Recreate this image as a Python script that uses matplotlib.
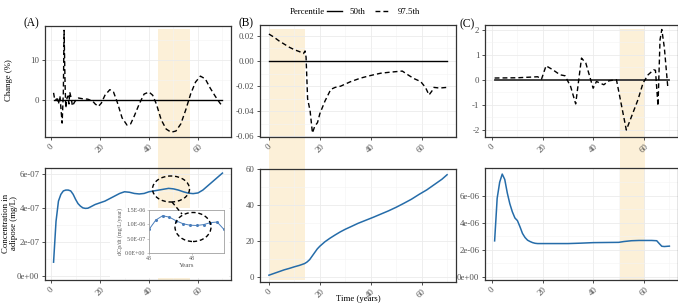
import matplotlib.pyplot as plt
import numpy as np
from matplotlib.lines import Line2D
from matplotlib.patches import Rectangle, Ellipse
from matplotlib.transforms import blended_transform_factory

plt.rcParams['font.family'] = ['Liberation Serif', 'DejaVu Serif']

W, H = 678, 307

# ---------------- data ----------------
# (A) change (%) of the 97.5th percentile
yr_a_chg = [1, 1.5, 2.5, 3, 3.6, 4.0, 4.5, 5.0, 5.3, 5.7, 6.0, 6.5, 6.9, 7.3, 7.6, 8.2, 8.7,
            9.6, 10.5, 11.2, 13, 15, 17, 18, 19.3, 20.5, 22, 24, 25.5, 27, 29, 31, 32.5, 34,
            36, 38, 40, 41.5, 43, 45, 47, 49, 51, 53, 55, 57, 59, 61, 63, 65, 67, 69, 70]
chg_a = [1.8, 0.0, 0.3, -1.0, 1.0, -2.0, -5.8, 2.0, 17.5, 4.0, -2.0, 0.5, 1.0, -1.0, 2.0, 0.5, -1.5,
         -0.5, 0.3, 0.5, 0.3, 0.2, -0.3, -1.0, -1.6, -0.8, 1.2, 2.6, 2.0, -0.5, -4.5, -6.3, -6.0, -4.0,
         -1.0, 1.5, 2.0, 1.2, -1.0, -5.0, -7.3, -8.1, -7.8, -6.0, -2.5, 1.5, 4.5, 6.0, 5.3, 3.0, 1.0, -0.8, -1.5]

# (A) concentration in adipose (mg/L)
yr_a_conc = [1, 2, 3, 4, 5, 6, 7, 8, 9, 10, 11, 12, 13, 14, 15, 16, 18, 20, 22, 24, 26, 28, 30,
             32, 34, 36, 38, 40, 42, 44, 46, 48, 50, 52, 54, 56, 58, 60, 62, 64, 66, 68, 70]
conc_a = np.array([0.8, 3.2, 4.4, 4.8, 5.0, 5.05, 5.05, 5.0, 4.8, 4.5, 4.25, 4.1, 4.0, 3.97, 3.98,
                   4.05, 4.2, 4.3, 4.4, 4.55, 4.7, 4.85, 4.95, 4.92, 4.85, 4.82, 4.85, 4.95, 5.0,
                   5.05, 5.1, 5.15, 5.12, 5.05, 4.95, 4.87, 4.84, 4.88, 5.05, 5.3, 5.55, 5.8, 6.05]) * 1e-7

# (A) inset: dCp/dt (mg/L/year)
yr_inset = [43, 43.8, 44.6, 45.4, 46.2, 47, 47.8, 48.6, 49.4, 50.2, 51, 51.8]
dcdt_inset = np.array([0.82, 1.15, 1.3, 1.25, 1.12, 1.02, 0.97, 0.96, 0.99, 1.06, 1.08, 0.82]) * 1e-6

# (B) change (%)
yr_b_chg = [0, 2, 4, 6, 8, 10, 12, 13.6, 14.2, 14.6, 15.2, 16.2, 17.1, 18, 19.1, 20, 22, 24.3,
            26, 28.2, 32, 36, 40, 43.9, 48, 52.4, 55, 57, 59.6, 61.5, 62.9, 64.0, 64.8, 67, 70]
chg_b = [0.0215, 0.019, 0.016, 0.0135, 0.011, 0.009, 0.0075, 0.006, 0.008, 0.003, -0.03, -0.04,
         -0.0573, -0.052, -0.049, -0.042, -0.032, -0.0226, -0.021, -0.02, -0.0165, -0.0136,
         -0.0115, -0.0097, -0.0088, -0.008, -0.0115, -0.014, -0.0163, -0.021, -0.027, -0.024,
         -0.021, -0.0215, -0.021]

# (B) concentration in adipose
yr_b_conc = [0, 2, 4, 6, 8, 10, 12, 14, 15, 16, 17, 18, 19, 20, 22, 24, 26, 28, 30, 32, 35, 38,
             41, 44, 47, 50, 53, 56, 59, 62, 65, 68, 70]
conc_b = [0.8, 1.8, 2.8, 3.8, 4.6, 5.5, 6.3, 7.3, 8.2, 9.5, 11.5, 13.5, 15.5, 17, 19.5, 21.5,
          23.3, 25, 26.5, 27.8, 29.8, 31.5, 33.2, 35, 36.8, 38.8, 41, 43.3, 46, 48.5, 51.5, 54.5, 57]

# (C) change (%)
yr_c_chg = [1, 10, 18, 19.5, 21.3, 24, 26.8, 28.8, 31, 33, 35.3, 37, 39.9, 41.2, 44.1, 46.2, 49.1,
            53, 57.6, 59.6, 61.6, 63.8, 64.5, 65.5, 66.3, 67, 68, 69.4]
chg_c = [0.07, 0.08, 0.12, 0.02, 0.56, 0.4, 0.2, 0.16, -0.27, -0.97, 0.87, 0.67, -0.34, -0.07,
         -0.2, -0.04, 0.0, -2.02, -0.8, -0.13, 0.2, 0.4, 0.38, -1.05, 1.6, 2.02, 1.3, -0.33]

# (C) concentration in adipose
yr_c_conc = [1, 2, 3, 4, 5, 6, 7, 8, 9, 10, 11, 12, 13, 14, 15, 16, 17, 18, 20, 25, 30, 35, 40,
             45, 50, 52, 55, 58, 60, 63, 65, 66, 67, 68, 70]
conc_c = np.array([2.65, 5.8, 7.0, 7.6, 7.2, 6.2, 5.4, 4.8, 4.35, 4.15, 3.7, 3.2, 2.9, 2.7, 2.6,
                   2.52, 2.47, 2.45, 2.45, 2.45, 2.45, 2.48, 2.52, 2.53, 2.54, 2.6, 2.66, 2.68,
                   2.68, 2.68, 2.66, 2.45, 2.25, 2.23, 2.26]) * 1e-6

# 50th percentile change lines (flat at zero)
med_a = ([1, 70], [0, 0])
med_b = ([0, 70], [0, 0])
med_c = ([1, 70], [0, 0])

# highlighted windows (years)
win_a = (43.5, 56.8)
win_b = (0.0, 14.2)
win_c = (50.5, 60.3)

# tick labels
yt_a_chg = [0, 10]
yt_a_conc = [0, 2e-7, 4e-7, 6e-7]
yl_a_conc = ['0e+00', '2e-07', '4e-07', '6e-07']
yt_b_chg = [-0.06, -0.04, -0.02, 0.0, 0.02]
yl_b_chg = ['-0.06', '-0.04', '-0.02', '0.00', '0.02']
yt_b_conc = [0, 20, 40, 60]
yt_c_chg = [-2, -1, 0, 1, 2]
yl_c_chg = ['-2', '-1', '0', '1', '2']
yt_c_conc = [0, 2e-6, 4e-6, 6e-6]
yl_c_conc = ['0e+00', '2e-06', '4e-06', '6e-06']
yt_inset = [0, 5e-7, 1e-6, 1.5e-6]
yl_inset = ['0.0E+00', '5.0E-07', '1.0E-06', '1.5E-06']

BLUE = '#256ca9'
SHADE = '#fcf0d8'
DASH = (0, (3.5, 2.2))
FS = 6.3

fig = plt.figure(figsize=(W / 100, H / 100), dpi=100)


def frac(l, t, r, b):
    return [l / W, 1 - b / H, (r - l) / W, (b - t) / H]


def style(ax):
    ax.set_facecolor('none')
    for s in ax.spines.values():
        s.set_color('#333333')
        s.set_linewidth(0.9)
    ax.set_xticks([0, 20, 40, 60])
    ax.set_xticks([10, 30, 50, 70], minor=True)
    ax.grid(True, which='major', color='#ebebeb', lw=0.6)
    ax.grid(True, which='minor', color='#f3f3f3', lw=0.4)
    ax.set_axisbelow(True)
    ax.tick_params(which='major', length=2.5, width=0.6, color='#333333',
                   labelsize=FS, labelcolor='#4d4d4d', pad=1.5)
    ax.tick_params(which='minor', length=0)
    ax.tick_params(axis='x', labelrotation=45)


def minor_y(ax, ticks):
    step = ticks[1] - ticks[0]
    ax.set_yticks([t + step / 2 for t in [ticks[0] - step] + list(ticks)], minor=True)


ax_a1 = fig.add_axes(frac(45, 26, 231, 137))
ax_a2 = fig.add_axes(frac(45, 168, 231, 280))
ax_b1 = fig.add_axes(frac(260, 25, 456, 137))
ax_b2 = fig.add_axes(frac(260, 169, 456, 282))
ax_c1 = fig.add_axes(frac(485, 25, 678, 137))
ax_c2 = fig.add_axes(frac(485, 168, 678, 280))

for ax in [ax_a1, ax_a2, ax_b1, ax_b2, ax_c1, ax_c2]:
    style(ax)

# panel A
ax_a1.plot(*med_a, color='black', lw=1.0)
ax_a1.plot(yr_a_chg, chg_a, color='black', lw=1.0, ls=DASH)
ax_a1.set_yticks(yt_a_chg)
ax_a1.set_yticks([-5, 5, 15], minor=True)
ax_a1.set_xlim(-2.5, 73.5)
ax_a1.set_ylim(-9.3, 18.6)

ax_a2.plot(yr_a_conc, conc_a, color=BLUE, lw=1.1)
ax_a2.set_yticks(yt_a_conc, yl_a_conc)
minor_y(ax_a2, yt_a_conc)
ax_a2.set_xlim(-2.5, 73.5)
ax_a2.set_ylim(-0.25e-7, 6.35e-7)

# panel B
ax_b1.plot(*med_b, color='black', lw=1.0)
ax_b1.plot(yr_b_chg, chg_b, color='black', lw=1.0, ls=DASH)
ax_b1.set_yticks(yt_b_chg, yl_b_chg)
minor_y(ax_b1, yt_b_chg)
ax_b1.set_xlim(-3.5, 73.5)
ax_b1.set_ylim(-0.0605, 0.0287)

ax_b2.plot(yr_b_conc, conc_b, color=BLUE, lw=1.1)
ax_b2.set_yticks(yt_b_conc)
minor_y(ax_b2, yt_b_conc)
ax_b2.set_xlim(-3.5, 73.5)
ax_b2.set_ylim(-3, 60.2)

# panel C
ax_c1.plot(*med_c, color='#333333', lw=1.3)
ax_c1.plot(yr_c_chg, chg_c, color='black', lw=1.0, ls=DASH)
ax_c1.set_yticks(yt_c_chg, yl_c_chg)
minor_y(ax_c1, yt_c_chg)
ax_c1.set_xlim(-2.8, 73.4)
ax_c1.set_ylim(-2.3, 2.2)

ax_c2.plot(yr_c_conc, conc_c, color=BLUE, lw=1.1)
ax_c2.set_yticks(yt_c_conc, yl_c_conc)
minor_y(ax_c2, yt_c_conc)
ax_c2.set_xlim(-2.8, 73.4)
ax_c2.set_ylim(-0.25e-6, 8.05e-6)

# shaded windows running through both rows
for ax, (x0, x1) in [(ax_a1, win_a), (ax_b1, win_b), (ax_c1, win_c)]:
    tr = blended_transform_factory(ax.transData, fig.transFigure)
    fig.add_artist(Rectangle((x0, 1 - 280 / H), x1 - x0, (280 - 29) / H, transform=tr,
                             facecolor=SHADE, lw=0, zorder=-1))

# inset (white picture pasted into panel A)
ax_bg = fig.add_axes(frac(110, 208, 229, 278), zorder=2)
ax_bg.set_facecolor('white')
ax_bg.set_xticks([])
ax_bg.set_yticks([])
for s in ax_bg.spines.values():
    s.set_visible(False)

ax_in = fig.add_axes(frac(149, 210, 224, 253), zorder=3)
ax_in.plot(yr_inset, dcdt_inset, color='#4a7ebb', lw=0.7, marker='o', ms=1.2)
ax_in.set_xticks([43, 48])
ax_in.set_yticks(yt_inset, yl_inset)
ax_in.set_xlim(43, 51.8)
ax_in.set_ylim(0, 1.5e-6)
for s in ax_in.spines.values():
    s.set_color('#a0a0a0')
    s.set_linewidth(0.6)
ax_in.tick_params(length=1.5, width=0.4, color='#a0a0a0', labelsize=4.3,
                  labelcolor='#595959', pad=1)
ax_in.set_xlabel('Years', fontsize=5, color='#595959', labelpad=1)
ax_in.set_ylabel('dCp/dt (mg/L/year)', fontsize=4.3, color='#595959', labelpad=1.5)

# dashed callout ellipses and connector
for cx, cy, w, h in [(171, 189, 37, 26), (193, 227, 36, 29)]:
    fig.add_artist(Ellipse((cx / W, 1 - cy / H), w / W, h / H, transform=fig.transFigure,
                           fill=False, ec='black', lw=1.0, ls=(0, (3, 2)), zorder=10))
fig.add_artist(Line2D([172 / W, 182 / W], [1 - 202 / H, 1 - 214 / H], transform=fig.transFigure,
                      color='black', lw=1.0, ls=(0, (3, 2)), zorder=10))

# labels
fig.text(24 / W, 1 - 23 / H, '(A)', fontsize=8.3, ha='left', va='center')
fig.text(239 / W, 1 - 23 / H, '(B)', fontsize=8.3, ha='left', va='center')
fig.text(459 / W, 1 - 24 / H, '(C)', fontsize=8.3, ha='left', va='center')
fig.text(9 / W, 1 - 80 / H, 'Change (%)', fontsize=FS, rotation=90, ha='center', va='center')
fig.text(10 / W, 1 - 223 / H, 'Concentration in\nadipose (mg/L)', fontsize=FS, rotation=90,
         ha='center', va='center', linespacing=1.05)
fig.text(358 / W, 1 - 299 / H, 'Time (years)', fontsize=FS, ha='center', va='center')

# legend
fig.text(290 / W, 1 - 12 / H, 'Percentile', fontsize=FS, ha='left', va='center')
handles = [Line2D([], [], color='black', lw=1.0),
           Line2D([], [], color='black', lw=1.0, ls=DASH)]
fig.legend(handles, ['50th', '97.5th'], loc='center left', bbox_to_anchor=(327 / W, 1 - 12 / H),
           ncol=2, frameon=False, fontsize=FS, handlelength=1.7, handletextpad=0.9,
           columnspacing=1.1, borderaxespad=0, borderpad=0)

fig.savefig('out.png', dpi=100)
